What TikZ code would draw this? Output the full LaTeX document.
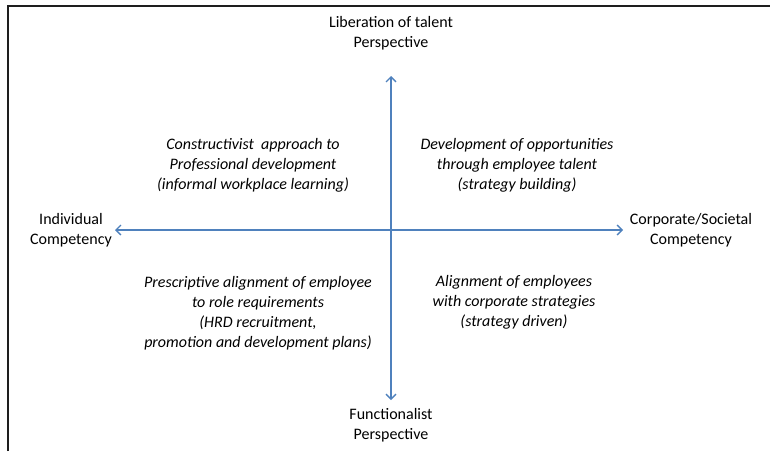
\documentclass[tikz,border=0pt]{standalone}
\usepackage{fontspec}
\setmainfont{Carlito}
\usetikzlibrary{arrows.meta}
\definecolor{axisblue}{RGB}{79,129,189}
\definecolor{framegray}{RGB}{30,30,30}
\begin{document}
\begin{tikzpicture}[x=1pt,y=-1pt,
  lbl/.style={align=center,font=\fontsize{16}{20.5}\selectfont,inner sep=0pt},
  qlbl/.style={align=center,font=\fontsize{16}{20}\selectfont\itshape,inner sep=0pt},
  axis/.style={draw=axisblue,line width=1.3pt,-{Straight Barb[length=5pt,width=10pt,line width=1.3pt]}},
  framestyle/.style={draw=framegray,line width=2.2pt}]
\useasboundingbox (0,0) rectangle (770,451);
\draw[framestyle] (8,451) -- (8,6) -- (770,6);
\coordinate (c) at (391,230);
\coordinate (top) at (391,76);
\coordinate (bot) at (391,400);
\coordinate (lft) at (115,230);
\coordinate (rgt) at (623,230);
\draw[axis] (c) -- (top);
\draw[axis] (c) -- (bot);
\draw[axis] (c) -- (lft);
\draw[axis] (c) -- (rgt);
\node[lbl] (tl) at (391,33) {Liberation of talent\\Perspective};
\node[lbl] (bl) at (391,425) {Functionalist\\Perspective};
\node[lbl] (ll) at (71,230) {Individual\\Competency};
\node[lbl] (rl) at (691,230) {Corporate/Societal\\Competency};
\node[qlbl] (q1) at (253,165) {Constructivist\ \ approach to\\Professional development\\(informal workplace learning)};
\node[qlbl] (q2) at (517,165) {Development of opportunities\\through employee talent\\(strategy building)};
\node[qlbl] (q3) at (258,313) {Prescriptive alignment of employee\\to role requirements\\(HRD recruitment,\\promotion and development plans)};
\node[qlbl] (q4) at (514,302) {Alignment of employees\\with corporate strategies\\(strategy driven)};
\end{tikzpicture}
\end{document}
